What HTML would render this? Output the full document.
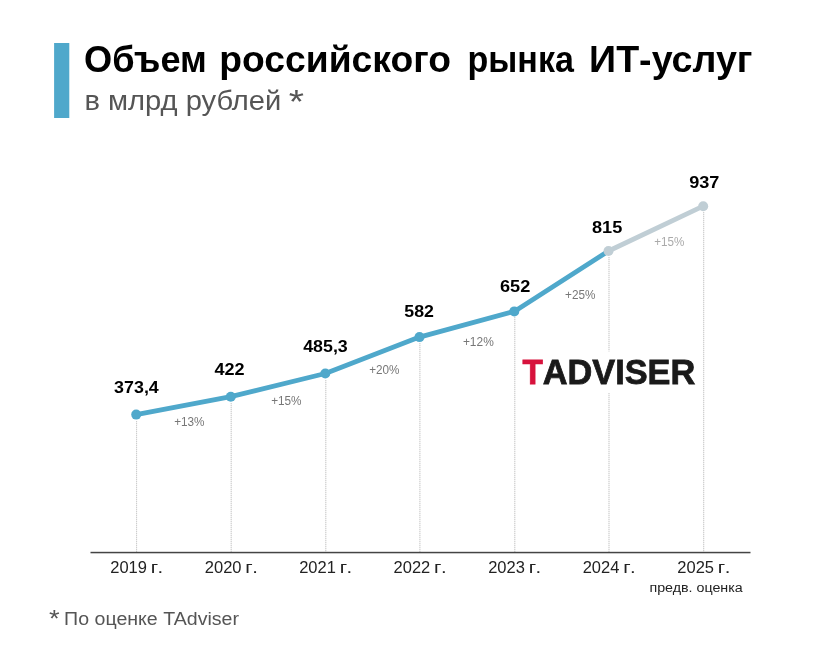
<!DOCTYPE html>
<html lang="ru">
<head>
<meta charset="utf-8">
<title>Объем российского рынка ИТ-услуг</title>
<style>
  html, body { margin: 0; padding: 0; background: #ffffff; }
  body { width: 840px; height: 670px; overflow: hidden; font-family: "Liberation Sans", sans-serif; }
  svg { display: block; }
  text { font-family: "Liberation Sans", sans-serif; }
  .ga { will-change: transform; }
  .title { font-weight: bold; fill: #000000; }
  .sub { fill: #555555; }
  .val { font-weight: bold; fill: #000000; }
  .pct { fill: #777777; }
  .pct2 { fill: #aaaaaa; }
  .yr { fill: #222222; }
  .note { fill: #222222; }
  .foot { fill: #555555; }
  .logo { font-weight: bold; fill: #1a1a1a; stroke: #1a1a1a; stroke-width: 0.8px; }
  .logoT { font-weight: bold; fill: #d7123c; stroke: #d7123c; stroke-width: 0.8px; }
</style>
</head>
<body>
<svg width="840" height="670" viewBox="0 0 840 670">
  <rect x="0" y="0" width="840" height="670" fill="#ffffff"/>

  <!-- header -->
  <rect x="54.1" y="43" width="15.2" height="75" fill="#4fa8cb"/>

  <!-- dotted guides -->
  <g stroke="#ededed" stroke-width="1" fill="none">
    <line x1="136.6" y1="421" x2="136.6" y2="552"/>
    <line x1="231.2" y1="403" x2="231.2" y2="552"/>
    <line x1="325.8" y1="380" x2="325.8" y2="552"/>
    <line x1="419.9" y1="343" x2="419.9" y2="552"/>
    <line x1="514.8" y1="317" x2="514.8" y2="552"/>
    <line x1="609.0" y1="257" x2="609.0" y2="552"/>
    <line x1="703.7" y1="212" x2="703.7" y2="552"/>
  </g>
  <g stroke="#cbcbcb" stroke-width="1" stroke-dasharray="1 1" fill="none">
    <line x1="136.6" y1="421" x2="136.6" y2="552"/>
    <line x1="231.2" y1="403" x2="231.2" y2="552"/>
    <line x1="325.8" y1="380" x2="325.8" y2="552"/>
    <line x1="419.9" y1="343" x2="419.9" y2="552"/>
    <line x1="514.8" y1="317" x2="514.8" y2="552"/>
    <line x1="609.0" y1="257" x2="609.0" y2="552"/>
    <line x1="703.7" y1="212" x2="703.7" y2="552"/>
  </g>

  <!-- logo plate -->
  <rect x="518" y="351.5" width="182" height="41.5" fill="#ffffff"/>

  <!-- axis -->
  <rect x="90.5" y="551.8" width="660" height="1.5" fill="#444444"/>

  <!-- lines -->
  <polyline points="608.5,251 703.2,206.2" fill="none" stroke="#c0ced5" stroke-width="4.8" stroke-linecap="round"/>
  <polyline points="136.2,414.6 230.8,396.7 325.3,373.5 419.5,337.1 514.3,311.4 608.5,251" fill="none" stroke="#4fa8cb" stroke-width="4.8" stroke-linejoin="round" stroke-linecap="round"/>
  <g fill="#4fa8cb">
    <circle cx="136.2" cy="414.6" r="5"/>
    <circle cx="230.8" cy="396.7" r="5"/>
    <circle cx="325.3" cy="373.5" r="5"/>
    <circle cx="419.5" cy="337.1" r="5"/>
    <circle cx="514.3" cy="311.4" r="5"/>
  </g>
  <g fill="#c0ced5">
    <circle cx="608.5" cy="251" r="5"/>
    <circle cx="703.2" cy="206.2" r="5"/>
  </g>

  <!-- text -->
  <g class="ga">
  <text class="title" font-size="37.5" transform="translate(83.99 71.60) scale(0.9659 1)">Объем</text>
  <text class="title" font-size="37.5" transform="translate(219.32 71.60) scale(0.9935 1)">российского</text>
  <text class="title" font-size="37.5" transform="translate(467.51 71.60) scale(0.9072 1)">рынка</text>
  <text class="title" font-size="37.5" transform="translate(589.12 71.60) scale(1.0031 1)">ИТ-услуг</text>
  <text class="sub" font-size="27.5" transform="translate(84.41 110.40) scale(1.0605 1)">в млрд рублей</text>
  <text class="sub" font-size="34" transform="translate(288.67 113.00) scale(1.1530 1)">*</text>
  <text class="val" font-size="16" transform="translate(114.08 392.70) scale(1.1178 1)">373,4</text>
  <text class="val" font-size="16" transform="translate(214.53 375.20) scale(1.1291 1)">422</text>
  <text class="val" font-size="16" transform="translate(303.14 351.80) scale(1.1146 1)">485,3</text>
  <text class="val" font-size="16" transform="translate(404.27 316.60) scale(1.1107 1)">582</text>
  <text class="val" font-size="16" transform="translate(499.99 291.90) scale(1.1346 1)">652</text>
  <text class="val" font-size="16" transform="translate(591.97 232.70) scale(1.1346 1)">815</text>
  <text class="val" font-size="16" transform="translate(689.19 188.10) scale(1.1323 1)">937</text>
  <text class="pct" font-size="12.3" transform="translate(174.16 425.80) scale(0.9576 1)">+13%</text>
  <text class="pct" font-size="12.3" transform="translate(271.16 404.70) scale(0.9576 1)">+15%</text>
  <text class="pct" font-size="12.3" transform="translate(369.14 373.80) scale(0.9536 1)">+20%</text>
  <text class="pct" font-size="12.3" transform="translate(462.90 345.80) scale(0.9717 1)">+12%</text>
  <text class="pct" font-size="12.3" transform="translate(565.11 298.90) scale(0.9563 1)">+25%</text>
  <text class="pct2" font-size="12.3" transform="translate(654.28 245.80) scale(0.9493 1)">+15%</text>
  <text class="yr" font-size="15.6" transform="translate(110.25 573.30) scale(1.0582 1)">2019</text>
  <text class="yr" font-size="15.6" letter-spacing="1.5" transform="translate(150.71 573.30) scale(1.3043 1)">г.</text>
  <text class="yr" font-size="15.6" transform="translate(204.80 573.30) scale(1.0582 1)">2020</text>
  <text class="yr" font-size="15.6" letter-spacing="1.5" transform="translate(245.26 573.30) scale(1.3043 1)">г.</text>
  <text class="yr" font-size="15.6" transform="translate(299.20 573.30) scale(1.0582 1)">2021</text>
  <text class="yr" font-size="15.6" letter-spacing="1.5" transform="translate(339.66 573.30) scale(1.3043 1)">г.</text>
  <text class="yr" font-size="15.6" transform="translate(393.60 573.30) scale(1.0582 1)">2022</text>
  <text class="yr" font-size="15.6" letter-spacing="1.5" transform="translate(434.06 573.30) scale(1.3043 1)">г.</text>
  <text class="yr" font-size="15.6" transform="translate(488.20 573.30) scale(1.0582 1)">2023</text>
  <text class="yr" font-size="15.6" letter-spacing="1.5" transform="translate(528.66 573.30) scale(1.3043 1)">г.</text>
  <text class="yr" font-size="15.6" transform="translate(582.70 573.30) scale(1.0582 1)">2024</text>
  <text class="yr" font-size="15.6" letter-spacing="1.5" transform="translate(623.16 573.30) scale(1.3043 1)">г.</text>
  <text class="yr" font-size="15.6" transform="translate(677.30 573.30) scale(1.0582 1)">2025</text>
  <text class="yr" font-size="15.6" letter-spacing="1.5" transform="translate(717.76 573.30) scale(1.3043 1)">г.</text>
  <text class="note" font-size="13.5" transform="translate(649.42 591.80) scale(1.0578 1)">предв. оценка</text>
  <text class="foot" font-size="24" transform="translate(48.93 627.00) scale(1.1376 1)">*</text>
  <text class="foot" font-size="18.5" transform="translate(64.08 624.60) scale(1.0590 1)">По оценке TAdviser</text>
  <text class="logoT" font-size="35.4" transform="translate(522.56 384.40) scale(0.9410 1)">T</text>
  <text class="logo" font-size="35.4" transform="translate(542.68 384.40) scale(0.9700 1)">ADVISER</text>
  </g>
</svg>
</body>
</html>
